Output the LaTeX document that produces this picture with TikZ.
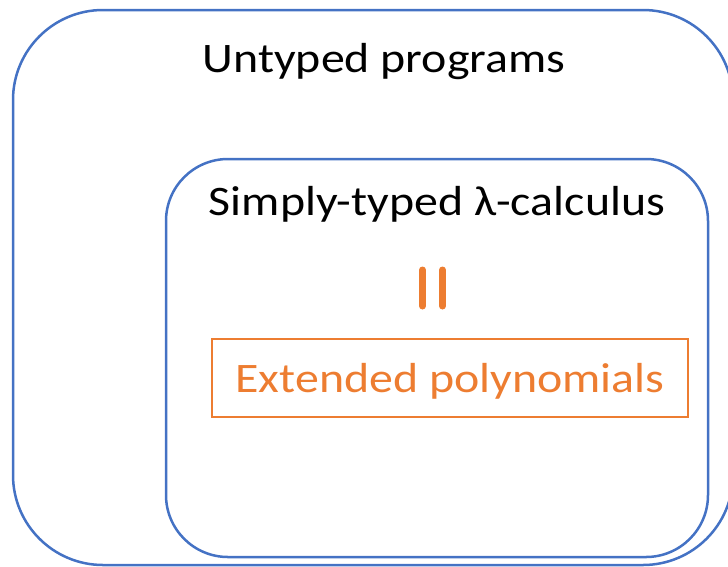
\documentclass[tikz,border=0pt]{standalone}
\usepackage{fontspec}
\setmainfont{Carlito}
\definecolor{boxblue}{HTML}{4472C4}
\definecolor{boxorange}{HTML}{ED7D31}
\newcommand{\widetext}[1]{\scalebox{1.14}[1]{#1}}
\tikzset{
  setbox/.style={draw=boxblue, line width=2.5pt, rectangle, inner sep=0pt},
  polybox/.style={draw=boxorange, line width=2pt, rectangle, inner sep=0pt, minimum width=476pt, minimum height=78pt},
  label/.style={font=\fontsize{42}{50}\selectfont, anchor=base, inner sep=0pt},
  eqbar/.style={draw=boxorange, line width=7pt, line cap=round}
}
\begin{document}
\begin{tikzpicture}[x=1pt,y=-1pt]
\useasboundingbox (0,0) rectangle (728,566);
\clip (0,0) rectangle (728,566);
\node[setbox, rounded corners=90pt, minimum width=720pt, minimum height=555pt] (outer) at (373,287.5) {};
\node[setbox, rounded corners=62pt, minimum width=542pt, minimum height=398pt] (inner) at (437,358) {};
\node[polybox] (poly) at (450,378) {};
\node[label] (untyped) at (384,72) {\widetext{Untyped programs}};
\node[label] (stlc) at (437,215) {\widetext{Simply-typed λ-calculus}};
\node[label, text=boxorange] (ext) at (450,392) {\widetext{Extended polynomials}};
\coordinate (b1t) at (422.5,270);
\coordinate (b1b) at (422.5,306);
\coordinate (b2t) at (442.5,270);
\coordinate (b2b) at (442.5,306);
\draw[eqbar] (b1t) -- (b1b);
\draw[eqbar] (b2t) -- (b2b);
\end{tikzpicture}
\end{document}
